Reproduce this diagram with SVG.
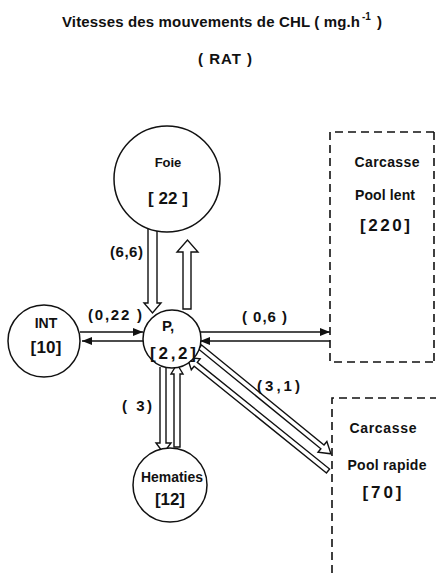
<svg xmlns="http://www.w3.org/2000/svg" width="436" height="574" viewBox="0 0 436 574">
<defs>
<style>
text{font-family:"Liberation Sans",Arial,sans-serif;font-weight:bold;fill:#111;}
.node{fill:#fff;stroke:#111;stroke-width:1.5;}
.box{fill:none;stroke:#111;stroke-width:1.6;stroke-dasharray:8 5;}
.ln{stroke:#111;stroke-width:1.4;fill:none;}
.hol{fill:#fff;stroke:#111;stroke-width:1.4;stroke-linejoin:miter;}
.t{font-size:15px;}
.s{font-size:14px;}
.b{font-size:17px;}
</style>
<marker id="ah" viewBox="0 0 10 8" refX="10" refY="4" markerWidth="10" markerHeight="8" markerUnits="userSpaceOnUse" orient="auto">
<path d="M0,0 L10,4 L0,8 Z" fill="#111"/>
</marker>
</defs>
<rect width="436" height="574" fill="#fff"/>
<text x="62" y="27" class="t" textLength="298" lengthAdjust="spacing">Vitesses des mouvements de CHL ( mg.h</text>
<text x="362" y="20" style="font-size:10px">-1</text>
<text x="377" y="27" class="t">)</text>
<text x="198" y="64" class="t" textLength="54" lengthAdjust="spacing">( RAT )</text>

<g id="connectors">
<!-- Foie -> P -->
<path class="hol" d="M148,229 L148,303 L144,303 L152.5,313 L161,303 L157,303 L157,229"/>
<!-- P -> Foie -->
<path class="hol" d="M183,309 L183,252 L177,252 L187.5,240 L198,252 L191,252 L191,309 Z"/>
<!-- P -> Hematies -->
<path class="hol" d="M160,367 L160,443 L156,443 L163.5,453 L171,443 L166,443 L166,367"/>
<!-- Hematies -> P -->
<path class="hol" d="M174,447 L174,374 L171,374 L177,364 L183,374 L180,374 L180,447 Z"/>
<!-- INT <-> P -->
<line class="ln" x1="80" y1="332" x2="143" y2="332" marker-end="url(#ah)"/>
<line class="ln" x1="143" y1="341" x2="82" y2="341" marker-end="url(#ah)"/>
<!-- P <-> Pool lent -->
<line class="ln" x1="198" y1="332" x2="330" y2="332" marker-end="url(#ah)"/>
<line class="ln" x1="330" y1="341" x2="200" y2="341" marker-end="url(#ah)"/>
<!-- P -> Pool rapide -->
<path class="hol" transform="translate(200,347) rotate(39.2)" d="M0,-2.5 L158,-2.5 L158,-7 L169,0 L158,7 L158,2.5 L0,2.5 Z"/>
<!-- Pool rapide -> P -->
<path class="hol" transform="translate(328,471) rotate(-141.1)" d="M0,-2.5 L170,-2.5 L170,-7 L181,0 L170,7 L170,2.5 L0,2.5 Z"/>
</g>

<g id="foie">
<circle class="node" cx="167" cy="179" r="53"/>
<text x="168" y="167" class="s" text-anchor="middle" style="font-size:13px">Foie</text>
<text x="168" y="204" class="b" text-anchor="middle" textLength="40" lengthAdjust="spacing">[ 22 ]</text>
</g>
<g id="int">
<circle class="node" cx="44" cy="341" r="36"/>
<text x="46" y="328" class="s" text-anchor="middle">INT</text>
<text x="46" y="353" class="b" text-anchor="middle" textLength="31" lengthAdjust="spacing">[10]</text>
</g>
<g id="p">
<circle class="node" cx="172" cy="339" r="29"/>
<text x="168" y="331" class="t" text-anchor="middle">P,</text>
<text x="173" y="359" class="b" text-anchor="middle" textLength="46" lengthAdjust="spacing">[2,2]</text>
</g>
<g id="hematies">
<circle class="node" cx="170" cy="485" r="37"/>
<text x="172" y="482" class="s" text-anchor="middle" textLength="62" lengthAdjust="spacingAndGlyphs">Hematies</text>
<text x="170" y="505" class="b" text-anchor="middle" textLength="30" lengthAdjust="spacing">[12]</text>
</g>
<g id="pool-lent">
<path class="box" d="M434,132 L330,132 L330,362 L434,362"/>
<line class="box" x1="434" y1="132" x2="434" y2="362"/>
<text x="387" y="167" class="s" text-anchor="middle" textLength="65" lengthAdjust="spacing">Carcasse</text>
<text x="385" y="200" class="s" text-anchor="middle" textLength="60" lengthAdjust="spacing">Pool lent</text>
<text x="385" y="231" class="b" text-anchor="middle" textLength="50" lengthAdjust="spacing">[220]</text>
</g>
<g id="pool-rapide">
<path class="box" d="M438,398 L332,398 L332,576"/>
<text x="383" y="433" class="s" text-anchor="middle" textLength="67" lengthAdjust="spacing">Carcasse</text>
<text x="387" y="470" class="s" text-anchor="middle" textLength="79" lengthAdjust="spacing">Pool rapide</text>
<text x="382" y="498" class="b" text-anchor="middle" textLength="39" lengthAdjust="spacing">[70]</text>
</g>

<g id="labels">
<text x="110" y="257" class="t" textLength="33" lengthAdjust="spacing">(6,6)</text>
<text x="88" y="320" class="t" textLength="54" lengthAdjust="spacing">(0,22 )</text>
<text x="242" y="322" class="t" textLength="45" lengthAdjust="spacing">( 0,6 )</text>
<text x="257" y="391" class="t" textLength="43" lengthAdjust="spacing">(3,1)</text>
<text x="122" y="411" class="t" textLength="30" lengthAdjust="spacing">( 3)</text>
</g>
</svg>
